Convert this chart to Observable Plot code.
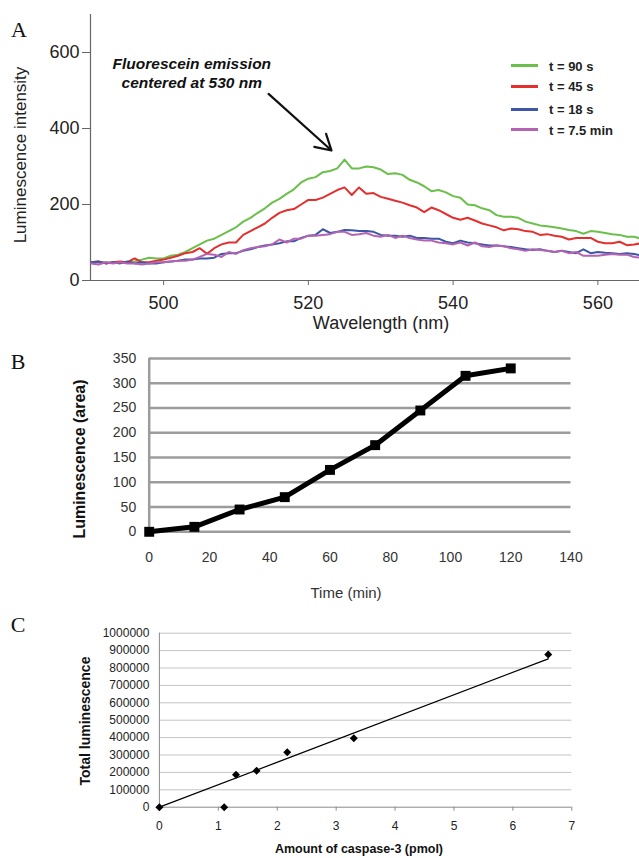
<!DOCTYPE html>
<html><head><meta charset="utf-8">
<script src="https://cdn.jsdelivr.net/npm/d3@7"></script>
<script src="https://cdn.jsdelivr.net/npm/@observablehq/plot@0.6"></script>
<style>
body{margin:0;background:#fff;}
#page{position:relative;width:639px;height:858px;overflow:hidden;background:#fff;font-family:"Liberation Sans",Arial,Helvetica,sans-serif;}
.abs{position:absolute;white-space:nowrap;line-height:1;}
.panel{position:absolute;left:0;}
</style></head><body><div id="page"></div>
<script>
// ---------- Panel A data ----------
const wavelengths = [490,491,492,493,494,495,496,497,498,499,500,501,502,503,504,505,506,507,508,509,510,511,512,513,514,515,516,517,518,519,520,521,522,523,524,525,526,527,528,529,530,531,532,533,534,535,536,537,538,539,540,541,542,543,544,545,546,547,548,549,550,551,552,553,554,555,556,557,558,559,560,561,562,563,564,565,566];
const series90s = [48,48,48,47,48,49,50,55,60,58,58,65,68,75,85,95,105,110,120,130,140,155,165,178,190,205,215,228,240,258,268,272,285,288,295,318,295,295,300,298,292,280,282,278,265,258,248,235,238,232,222,218,200,198,190,185,172,168,168,165,155,150,145,143,140,137,133,130,123,130,128,125,122,120,115,115,110];
const series45s = [48,50,45,48,50,48,58,48,48,52,55,60,65,72,75,85,70,85,95,100,100,120,130,140,150,165,178,185,188,200,212,212,218,228,238,245,225,245,228,230,220,215,210,205,198,192,180,192,185,175,165,160,165,158,150,145,140,132,137,135,130,128,120,122,118,115,108,112,112,112,102,98,98,102,93,95,98];
const series18s = [48,50,45,48,45,50,45,48,45,45,48,50,52,55,55,58,58,60,70,72,72,78,82,88,92,95,98,103,103,112,118,120,135,125,128,133,132,130,130,128,120,118,118,115,118,112,112,110,110,102,98,105,100,98,95,92,92,90,88,85,82,80,82,78,75,78,75,72,82,72,75,73,72,70,72,70,66];
const series75min = [45,42,48,45,48,45,45,42,45,48,48,50,52,52,55,62,70,68,62,75,70,80,85,88,90,95,108,100,110,110,118,118,120,122,128,128,120,122,125,118,115,120,112,118,112,108,105,105,100,98,95,100,92,100,90,88,92,90,85,82,78,82,80,78,75,78,72,75,65,65,65,68,70,68,68,62,60];
const seriesNamesA = ["t = 90 s","t = 45 s","t = 18 s","t = 7.5 min"];
const xTicksA = [500,520,540,560];
const yTicksA = [0,200,400,600];
const annotationText = ["Fluorescein emission\ncentered at 530 nm"];
const annotationPos = [{x:503.9, y:547}];
const arrowA = [{x1:514.5, y1:491, x2:523.2, y2:342}];

// ---------- Panel B data ----------
const timeMin = [0,15,30,45,60,75,90,105,120];
const lumArea = [0,10,45,70,125,175,245,315,330];
const xTicksB = [0,20,40,60,80,100,120,140];
const yTicksB = [0,50,100,150,200,250,300,350];

// ---------- Panel C data ----------
const caspasePmol = [0,1.1,1.3,1.65,2.17,3.3,6.6];
const totalLum = [0,0,187000,210000,316000,396000,877000];
const xTicksC = [0,1,2,3,4,5,6,7];
const yTicksC = [0,100000,200000,300000,400000,500000,600000,700000,800000,900000,1000000];

// ---------- styles ----------
const colorsA = ["#6bbf4b","#e3302e","#3d56a6","#b463b2"];
const sans = "'Liberation Sans', Arial, Helvetica, sans-serif";
const page = document.getElementById("page");

function place(el, top){ el.classList.add("panel"); el.style.top = top + "px"; page.appendChild(el); }
function label(text, cx, cy, css, rotate){
  const d = document.createElement("div");
  d.className = "abs"; d.textContent = text;
  d.style.left = cx + "px"; d.style.top = cy + "px";
  d.style.transform = "translate(-50%,-50%)" + (rotate ? " rotate(-90deg)" : "");
  Object.assign(d.style, css);
  page.appendChild(d);
}

// ---------- Panel A ----------
const xDomA = [489.9, 565.75];
const seriesA = [series90s, series45s, series18s, series75min];
const linesA = seriesA.map((vals, k) =>
  Plot.line(wavelengths.map((w, i) => ({w, v: vals[i]})), {x:"w", y:"v", stroke: colorsA[k], strokeWidth: 2, clip: true, strokeLinejoin:"round"}));
const A = Plot.plot({
  width: 639, height: 335, marginLeft: 90, marginRight: 0, marginTop: 14, marginBottom: 55,
  x: {domain: xDomA}, y: {domain: [0, 700]},
  style: {fontFamily: sans, fontSize: "18px", color: "#222", background: "transparent", overflow: "visible"},
  marks: [
    Plot.ruleX([xDomA[0]], {y1: 0, y2: 700, stroke: "#666", strokeWidth: 1.2}),
    Plot.ruleY([0], {stroke: "#666", strokeWidth: 1.2}),
    Plot.axisY({ticks: yTicksA, tickSize: 8, tickPadding: 3, label: null, color: "#222", stroke: "#666"}),
    Plot.axisX({ticks: xTicksA, tickSize: 5, tickPadding: 11, label: null, color: "#222", stroke: "#666"}),
    ...linesA,
    Plot.text(annotationText, {x: annotationPos.map(d=>d.x), y: annotationPos.map(d=>d.y), text: d => d, fontSize: 15.5, fontWeight: "bold", fontStyle: "italic", lineHeight: 1.23, fill: "#111"}),
    Plot.arrow(arrowA, {x1:"x1", y1:"y1", x2:"x2", y2:"y2", stroke: "#111", strokeWidth: 2.2, headLength: 12})
  ]
});
place(A, 0);
label("A", 19, 30, {fontFamily:"'Liberation Serif','Times New Roman',serif", fontSize:"22px", color:"#111"});
label("Luminescence intensity", 20, 155, {fontSize:"17px", color:"#222"}, true);
label("Wavelength (nm)", 381, 323, {fontSize:"18px", color:"#222"});
// legend
const legendRows = [65.9, 86.4, 109, 129.6];
seriesNamesA.forEach((name, k) => {
  const sw = document.createElement("div");
  sw.className = "abs";
  Object.assign(sw.style, {left:"511px", top:(legendRows[k]-1.5)+"px", width:"27px", height:"3px", background: colorsA[k]});
  page.appendChild(sw);
  const t = document.createElement("div");
  t.className = "abs"; t.textContent = name;
  Object.assign(t.style, {left:"549px", top:legendRows[k]+"px", transform:"translateY(-50%)", fontSize:"13px", fontWeight:"bold", color:"#222"});
  page.appendChild(t);
});

// ---------- Panel B ----------
const dataB = timeMin.map((t, i) => ({t, v: lumArea[i]}));
const B = Plot.plot({
  width: 639, height: 270, marginLeft: 148.7, marginRight: 68.5, marginTop: 18, marginBottom: 78.7,
  x: {domain: [0, 140]}, y: {domain: [0, 350]},
  style: {fontFamily: sans, fontSize: "14px", color: "#333", background: "transparent", overflow: "visible"},
  marks: [
    Plot.ruleY(yTicksB, {stroke: "#9c9c9c", strokeWidth: 2.5}),
    Plot.ruleX([0], {y1: 0, y2: 350, stroke: "#9c9c9c", strokeWidth: 2.5}),
    Plot.axisY({ticks: yTicksB, tickSize: 0, tickPadding: 13, label: null, color: "#333"}),
    Plot.axisX({ticks: xTicksB, tickSize: 0, tickPadding: 20, label: null, color: "#333"}),
    Plot.line(dataB, {x: "t", y: "v", stroke: "#000", strokeWidth: 5, strokeLinejoin: "round"}),
    Plot.dot(dataB, {x: "t", y: "v", symbol: "square", r: 5.6, fill: "#000"})
  ]
});
place(B, 340);
label("B", 18, 362, {fontFamily:"'Liberation Serif','Times New Roman',serif", fontSize:"22px", color:"#111"});
label("Luminescence (area)", 80, 459, {fontSize:"16px", fontWeight:"bold", color:"#111"}, true);
label("Time (min)", 346, 592, {fontSize:"15px", color:"#333"});

// ---------- Panel C ----------
const dataC = caspasePmol.map((x, i) => ({x, y: totalLum[i]}));
// trend line: least-squares fit through the origin
const slopeC = d3.sum(dataC, d => d.x * d.y) / d3.sum(dataC, d => d.x * d.x);
const trendC = [0, d3.max(caspasePmol)].map(x => ({x, y: slopeC * x}));
const C = Plot.plot({
  width: 639, height: 243, marginLeft: 158.9, marginRight: 67.7, marginTop: 17.7, marginBottom: 51.3,
  x: {domain: [0, 7]}, y: {domain: [0, 1000000]},
  style: {fontFamily: sans, fontSize: "12px", color: "#222", background: "transparent", overflow: "visible"},
  marks: [
    Plot.ruleY(yTicksC.filter(d => d > 0), {stroke: "#c4c4c4", strokeWidth: 1}),
    Plot.ruleY([0], {stroke: "#8a8a8a", strokeWidth: 1}),
    Plot.ruleX([0], {y1: 0, y2: 1000000, stroke: "#8a8a8a", strokeWidth: 1}),
    Plot.axisY({ticks: yTicksC, tickSize: 0, tickPadding: 10, label: null, tickFormat: d3.format("d"), color: "#222"}),
    Plot.axisX({ticks: xTicksC, tickSize: 4, tickPadding: 10, label: null, tickFormat: d3.format("d"), color: "#222", stroke: "#8a8a8a"}),
    Plot.line(trendC, {x: "x", y: "y", stroke: "#000", strokeWidth: 1.3}),
    Plot.dot(dataC, {x: "x", y: "y", symbol: "diamond2", r: 3.6, fill: "#000"})
  ]
});
place(C, 615);
label("C", 18, 625, {fontFamily:"'Liberation Serif','Times New Roman',serif", fontSize:"22px", color:"#111"});
label("Total luminescence", 85, 721, {fontSize:"14px", fontWeight:"bold", color:"#111"}, true);
label("Amount of caspase-3 (pmol)", 359, 849, {fontSize:"12.5px", fontWeight:"bold", color:"#111"});
</script></body></html>
